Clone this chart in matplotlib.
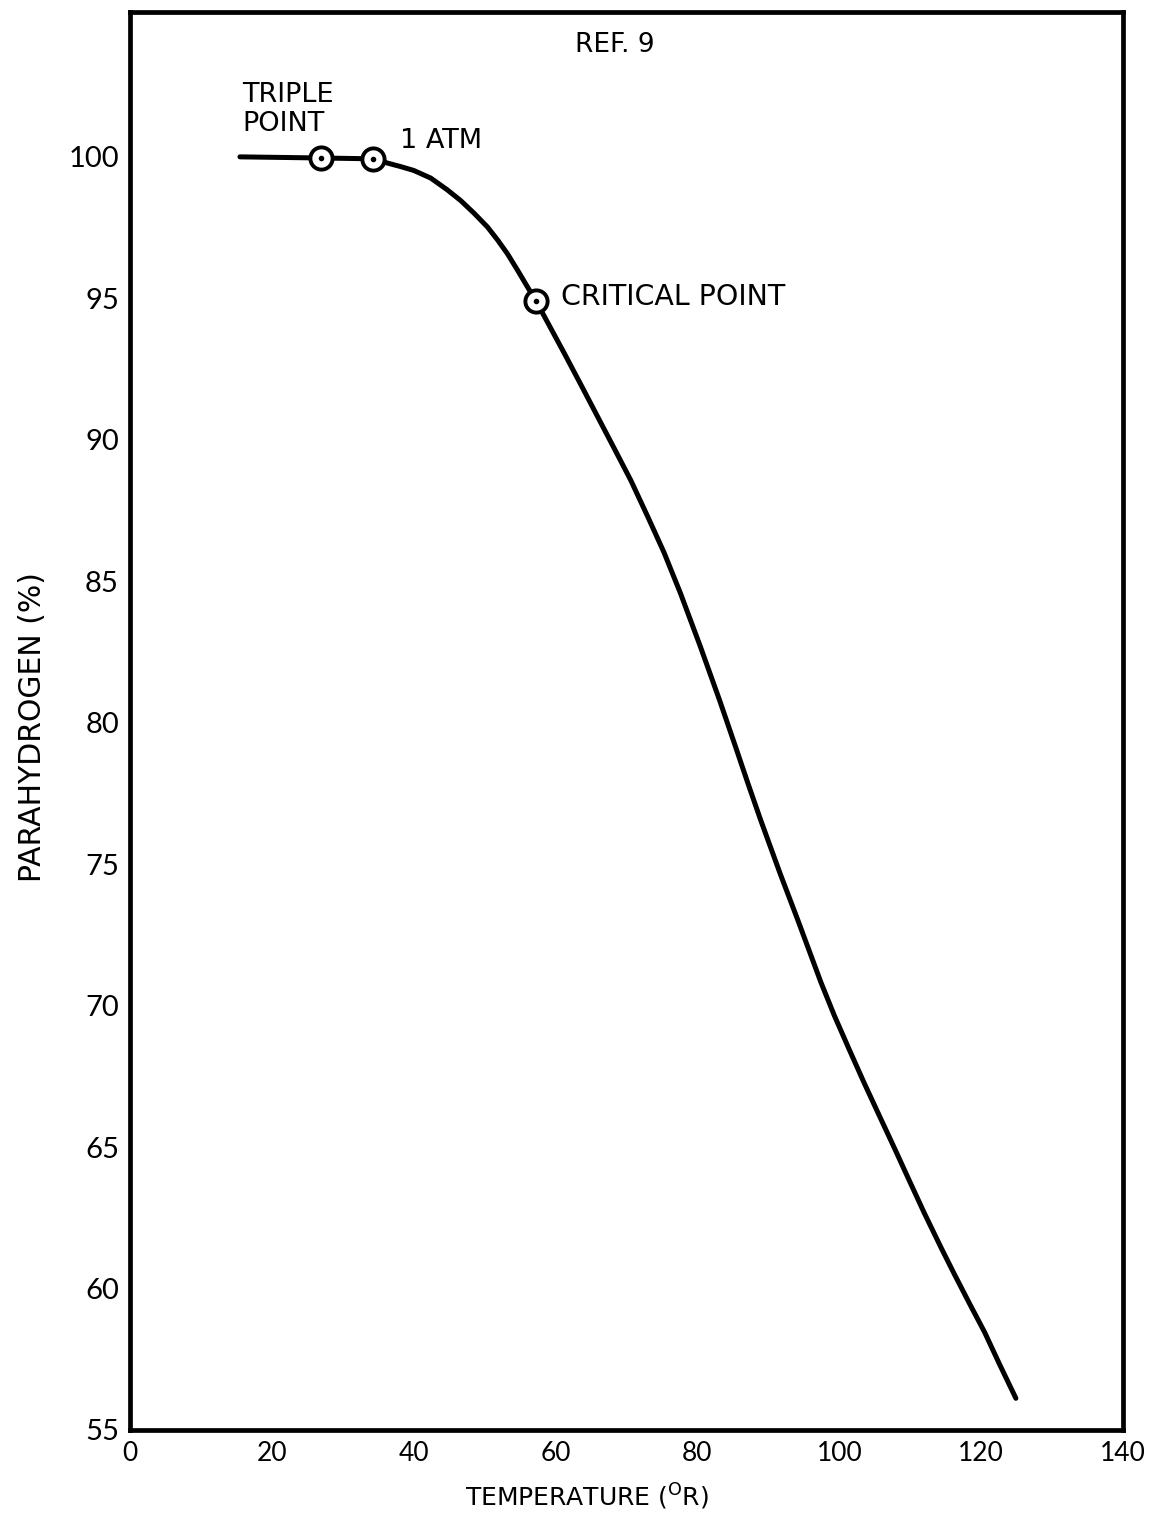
import matplotlib.pyplot as plt

# curve: temperature (deg R) vs parahydrogen (%)
temp = [15.5, 26.9, 34.3, 36.3, 38.1, 40.0, 42.4, 44.7, 46.6, 48.5, 50.4,
        51.8, 53.2, 54.6, 56.0, 57.2, 58.4, 59.8, 61.2, 63.5, 65.9, 68.3,
        70.6, 73.0, 75.3, 77.6, 80.4, 83.1, 85.4, 87.1, 88.9, 91.7, 94.1,
        97.4, 99.3, 101.4, 103.5, 105.7, 107.8, 109.9, 112.0, 114.4, 116.2,
        118.4, 120.5, 122.6, 124.9]
para = [100.0, 99.96, 99.93, 99.78, 99.66, 99.52, 99.25, 98.84, 98.46,
        98.01, 97.52, 97.07, 96.58, 96.01, 95.42, 94.92, 94.37, 93.72,
        93.07, 91.98, 90.83, 89.68, 88.57, 87.28, 86.01, 84.58, 82.70,
        80.81, 79.13, 77.87, 76.57, 74.64, 73.06, 70.83, 69.65, 68.45,
        67.27, 66.08, 64.95, 63.80, 62.66, 61.42, 60.52, 59.45, 58.45,
        57.32, 56.12]

# marked points
pt_names = ['TRIPLE\nPOINT', '1 ATM', 'CRITICAL POINT']
pt_temp = [26.9, 34.3, 57.2]
pt_para = [99.96, 99.93, 94.92]

xticks = [0, 20, 40, 60, 80, 100, 120, 140]
yticks = [55, 60, 65, 70, 75, 80, 85, 90, 95, 100]

plt.rcParams['font.family'] = ['DejaVu Sans']
plt.rcParams['mathtext.fontset'] = 'dejavusans'

fig = plt.figure(figsize=(11.51, 15.19), dpi=100)
ax = fig.add_axes([130 / 1151, 1 - 1430 / 1519, (1123 - 130) / 1151, (1430 - 12) / 1519])

ax.plot(temp, para, color='black', lw=3.6, solid_capstyle='round', zorder=2)
ax.plot(pt_temp, pt_para, 'o', ms=16, mfc='white', mec='black', mew=2.8, zorder=3)
ax.plot(pt_temp, pt_para, 'o', ms=3, color='black', zorder=4)

ax.set_xlim(0, 140)
ax.set_ylim(55, 105.12)
ax.set_xticks(xticks)
ax.set_yticks(yticks)
ax.tick_params(length=0, pad=8)
for lab in ax.get_yticklabels():
    lab.set_fontfamily('Lato')
    lab.set_fontsize(21)
for lab in ax.get_xticklabels():
    lab.set_fontfamily('Lato')
    lab.set_fontsize(19)
for s in ax.spines.values():
    s.set_linewidth(3.4)

ax.text(68.3, 103.95, 'REF. 9', fontsize=19, ha='center', va='center')
ax.text(15.8, 101.69, pt_names[0], fontsize=19.5, ha='left', va='center', linespacing=1.15)
ax.text(38.0, 100.56, pt_names[1], fontsize=19.5, ha='left', va='center')
ax.text(60.7, 95.06, pt_names[2], fontsize=20.5, ha='left', va='center')

fig.text(587 / 1151, 1 - 1497 / 1519, r'TEMPERATURE ($^{\mathrm{O}}$R)', fontsize=18,
         ha='center', va='center')
fig.text(33 / 1151, 1 - 727 / 1519, 'PARAHYDROGEN (%)', fontsize=21.5, rotation=90,
         ha='center', va='center')

fig.savefig('out.png', dpi=100)
